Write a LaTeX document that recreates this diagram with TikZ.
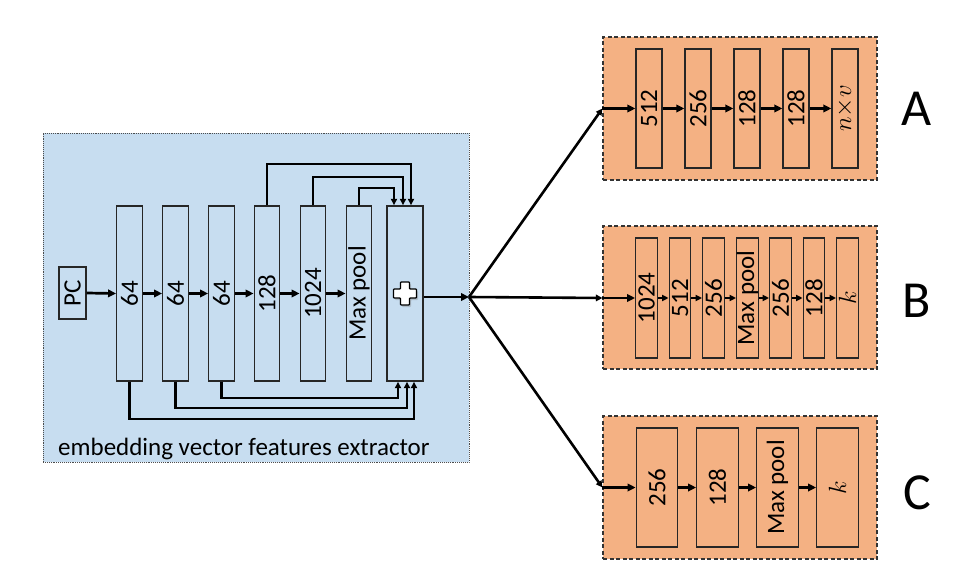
\documentclass[tikz,border=0pt]{standalone}
\usepackage{fontspec}
\setmainfont{Carlito}
\usetikzlibrary{arrows.meta,shadows}
\definecolor{bluefill}{RGB}{199,221,240}
\definecolor{orangefill}{RGB}{244,177,131}
\begin{document}
\begin{tikzpicture}[x=1pt,y=-1pt,
  txt/.style={font=\fontsize{25}{29}\selectfont},
  bcol/.style={draw=black!85, line width=1.4pt, fill=bluefill, minimum width=25.5pt, minimum height=175pt, inner sep=0pt, txt},
  ocol/.style={draw=black!85, line width=1.3pt, fill=orangefill, inner sep=0pt, txt},
  obox/.style={draw=black!80, dash pattern=on 4pt off 2.5pt, line width=1.2pt, fill=orangefill, minimum width=274pt, minimum height=143pt, inner sep=0pt},
  arr/.style={line width=2.7pt, -{Triangle[length=8pt,width=7.5pt]}},
  sarr/.style={line width=2.2pt, -{Triangle[length=6.5pt,width=6pt]}},
  farr/.style={line width=2.6pt, -{Triangle[length=6.5pt,width=6.5pt]}},
  big/.style={font=\fontsize{52}{60}\selectfont, anchor=base, inner sep=0pt}]
\useasboundingbox (0,0) rectangle (974,580);

% extractor background
\node[draw=gray!60!black, densely dotted, line width=0.9pt, fill=bluefill,
      minimum width=426pt, minimum height=329pt, inner sep=0pt] (ext) at (256,297.5) {};
\node[txt, anchor=base west, inner sep=0pt] (lbl) at (58,455) {embedding vector features extractor};

\node[draw=black!85, line width=1.4pt, fill=bluefill, minimum width=27pt, minimum height=52pt, inner sep=0pt, txt] (pc) at (72.5,293) {\rotatebox{90}{PC}};
\node[bcol] (c1) at (129.5,293.5) {\rotatebox{90}{64}};
\node[bcol] (c2) at (175.5,293.5) {\rotatebox{90}{64}};
\node[bcol] (c3) at (221.5,293.5) {\rotatebox{90}{64}};
\node[bcol] (c4) at (267,293.5) {\rotatebox{90}{128}};
\node[bcol] (c5) at (313,293.5) {\rotatebox{90}{1024}};
\node[bcol] (c6) at (359,293.5) {\rotatebox{90}{Max pool}};
\node[bcol, minimum width=36pt] (s) at (405,293.5) {};

\begin{scope}[shift={(s.center)}]
\filldraw[fill=white, draw=black, line width=1.3pt, rounded corners=0.8pt,
  drop shadow={opacity=0.35, shadow xshift=1.5pt, shadow yshift=-2pt}]
  (-4.5,-11.5) -- (4.5,-11.5) -- (4.5,-4.5) -- (11.5,-4.5) -- (11.5,4.5) -- (4.5,4.5)
  -- (4.5,11.5) -- (-4.5,11.5) -- (-4.5,4.5) -- (-11.5,4.5) -- (-11.5,-4.5) -- (-4.5,-4.5) -- cycle;
\end{scope}

\draw[arr] (pc.east) -- (c1.west);
\draw[arr] (c1.east) -- (c2.west);
\draw[arr] (c2.east) -- (c3.west);
\draw[arr] (c3.east) -- (c4.west);
\draw[arr] (c4.east) -- (c5.west);
\draw[arr] (c5.east) -- (c6.west);

% skip connections
\draw[sarr] (c4.north) -- ++(0,-41) -| ([xshift=6pt]s.north);
\draw[sarr] (c5.north) -- ++(0,-28) -| ([xshift=-2pt]s.north);
\draw[sarr] (c6.north) -- ++(0,-17) -| ([xshift=-11pt]s.north);
\draw[sarr] (c3.south) -- ++(0,16) -| ([xshift=-7pt]s.south);
\draw[sarr] (c2.south) -- ++(0,26) -| ([xshift=2pt]s.south);
\draw[sarr] (c1.south) -- ++(0,37) -| ([xshift=9pt]s.south);

\coordinate (fan) at (469,297);
\draw[arr] (s.east |- fan) -- (fan);

% branch A
\node[obox] (A) at (740,108.5) {};
\node[ocol, minimum width=26pt, minimum height=119pt] (a1) at (649,108.5) {\rotatebox{90}{512}};
\node[ocol, minimum width=26pt, minimum height=119pt] (a2) at (698,108.5) {\rotatebox{90}{256}};
\node[ocol, minimum width=26pt, minimum height=119pt] (a3) at (747,108.5) {\rotatebox{90}{128}};
\node[ocol, minimum width=26pt, minimum height=119pt] (a4) at (796,108.5) {\rotatebox{90}{128}};
\node[ocol, minimum width=26pt, minimum height=119pt] (a5) at (845,108.5) {\rotatebox{90}{$n{\times}v$}};
\coordinate (ain) at (A.west |- a1);
\draw[farr] (fan) -- (ain);
\draw[arr] (ain) -- (a1.west);
\draw[arr] (a1.east) -- (a2.west);
\draw[arr] (a2.east) -- (a3.west);
\draw[arr] (a3.east) -- (a4.west);
\draw[arr] (a4.east) -- (a5.west);

% branch B
\node[obox] (B) at (740,297.5) {};
\node[ocol, minimum width=21.5pt, minimum height=120pt] (b1) at (646.5,298) {\rotatebox{90}{1024}};
\node[ocol, minimum width=21.5pt, minimum height=120pt] (b2) at (680,298) {\rotatebox{90}{512}};
\node[ocol, minimum width=21.5pt, minimum height=120pt] (b3) at (713.5,298) {\rotatebox{90}{256}};
\node[ocol, minimum width=21.5pt, minimum height=120pt] (b4) at (747.5,298) {\rotatebox{90}{Max pool}};
\node[ocol, minimum width=21.5pt, minimum height=120pt] (b5) at (780.5,298) {\rotatebox{90}{256}};
\node[ocol, minimum width=21.5pt, minimum height=120pt] (b6) at (814,298) {\rotatebox{90}{128}};
\node[ocol, minimum width=21.5pt, minimum height=120pt] (b7) at (847.5,298) {\rotatebox{90}{$k$}};
\coordinate (bin) at (B.west |- b1);
\draw[farr] (fan) -- (bin);
\draw[arr] (bin) -- (b1.west);
\draw[sarr, line width=2.6pt] (b1.east) -- (b2.west);
\draw[sarr, line width=2.6pt] (b2.east) -- (b3.west);
\draw[sarr, line width=2.6pt] (b3.east) -- (b4.west);
\draw[sarr, line width=2.6pt] (b4.east) -- (b5.west);
\draw[sarr, line width=2.6pt] (b5.east) -- (b6.west);
\draw[sarr, line width=2.6pt] (b6.east) -- (b7.west);

% branch C
\node[obox] (C) at (740,487.5) {};
\node[ocol, minimum width=41.5pt, minimum height=119pt] (d1) at (657,487.5) {\rotatebox{90}{256}};
\node[ocol, minimum width=41.5pt, minimum height=119pt] (d2) at (717.5,487.5) {\rotatebox{90}{128}};
\node[ocol, minimum width=41.5pt, minimum height=119pt] (d3) at (777.5,487.5) {\rotatebox{90}{Max pool}};
\node[ocol, minimum width=41.5pt, minimum height=119pt] (d4) at (837.5,487.5) {\rotatebox{90}{$k$}};
\coordinate (cin) at (C.west |- d1);
\draw[farr] (fan) -- (cin);
\draw[arr] (cin) -- (d1.west);
\draw[arr] (d1.east) -- (d2.west);
\draw[arr] (d2.east) -- (d3.west);
\draw[arr] (d3.east) -- (d4.west);

% labels
\node[big] (la) at (917,126) {A};
\node[big] (lb) at (917,317) {B};
\node[big] (lc) at (917,509) {C};
\end{tikzpicture}
\end{document}
